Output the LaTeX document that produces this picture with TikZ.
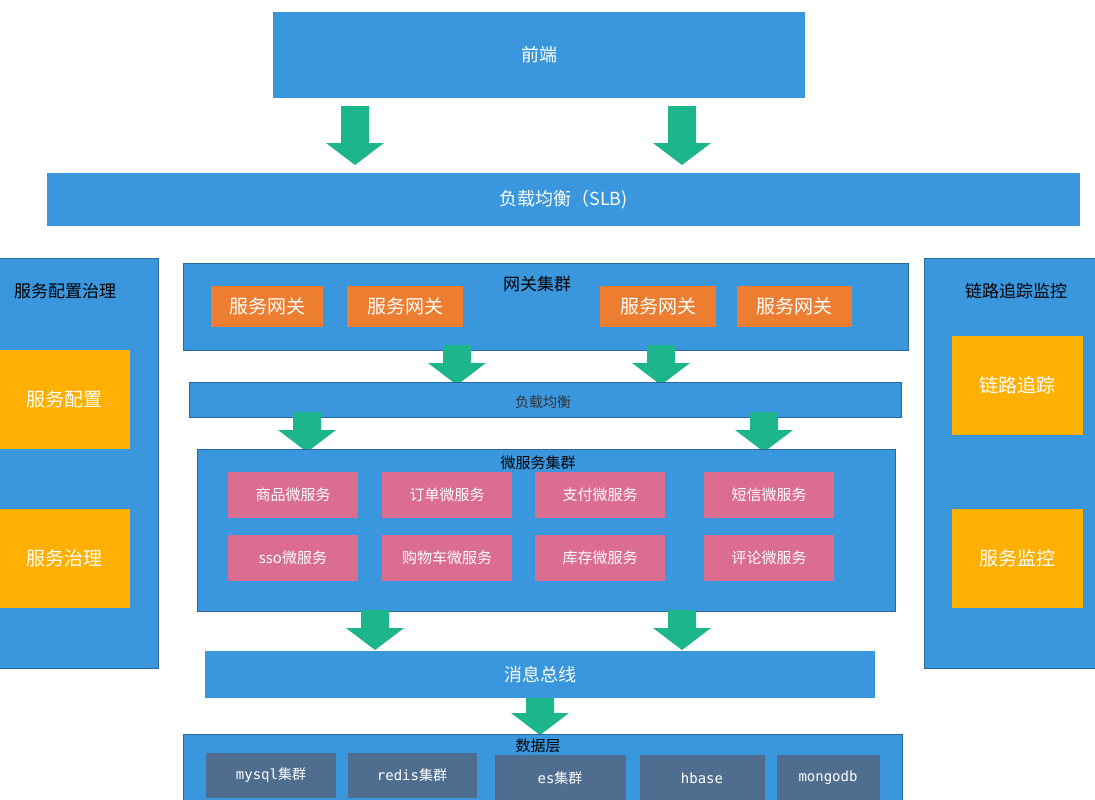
\documentclass[tikz,border=0pt]{standalone}
\usepackage{fontspec}
\setmainfont{Noto Sans CJK SC}
\newfontfamily\monof{DejaVu Sans Mono}
\definecolor{bl}{HTML}{3A96DD}
\definecolor{gr}{HTML}{1DB58C}
\definecolor{orb}{HTML}{ED7D31}
\definecolor{yel}{HTML}{FFB000}
\definecolor{pk}{HTML}{DA6D90}
\definecolor{sl}{HTML}{4F6D8E}
\newcommand\garrow[3]{\fill[gr] (#1-14,#2) -- (#1+14,#2) -- (#1+14,#3-22) -- (#1+29,#3-22) -- (#1,#3) -- (#1-29,#3-22) -- (#1-14,#3-22) -- cycle;}
\tikzset{
 panel/.style={fill=bl,draw=bl!70!black,line width=0.6pt},
 box/.style={draw=none,text=white,inner sep=0},
 ttl/.style={text=black,font=\fontsize{17}{20}\selectfont},
}
\begin{document}
\begin{tikzpicture}[x=1pt,y=-1pt]
\useasboundingbox (0,0) rectangle (1095,800);
\fill[white] (0,0) rectangle (1095,800);
\newcommand\bx[6]{\node[box,fill=#5,minimum width=#3-#1,minimum height=#4-#2,font=#6] at ({(#1+#3)/2},{(#2+#4)/2})}
\bx{273}{12}{805}{98}{bl}{\fontsize{18}{20}\selectfont}(fe){前端};
\garrow{355}{106}{165}\garrow{682}{106}{165}
\bx{47}{173}{1080}{226}{bl}{\fontsize{18}{20}\selectfont}(slb){负载均衡（SLB)};
% left panel
\fill[panel] (-2,258) rectangle (158,668);
\node[ttl] (lt) at (65,291) {服务配置治理};
\bx{0}{350}{130}{449}{yel}{\fontsize{19}{20}\selectfont}(cfg){服务配置};
\bx{0}{509}{130}{608}{yel}{\fontsize{19}{20}\selectfont}(gov){服务治理};
% right panel
\fill[panel] (924,258) rectangle (1097,668);
\node[ttl] (rt) at (1016,291) {链路追踪监控};
\bx{952}{336}{1083}{435}{yel}{\fontsize{19}{20}\selectfont}(tr){链路追踪};
\bx{952}{509}{1083}{608}{yel}{\fontsize{19}{20}\selectfont}(mon){服务监控};
% gateway
\fill[panel] (183,263) rectangle (908,350);
\node[ttl] (gt) at (537,284) {网关集群};
\bx{211}{286}{323}{327}{orb}{\fontsize{19}{20}\selectfont}(g1){服务网关};
\bx{347}{286}{463}{327}{orb}{\fontsize{19}{20}\selectfont}(g2){服务网关};
\bx{600}{286}{716}{327}{orb}{\fontsize{19}{20}\selectfont}(g3){服务网关};
\bx{737}{286}{852}{327}{orb}{\fontsize{19}{20}\selectfont}(g4){服务网关};
\garrow{457}{345}{385}\garrow{661}{345}{385}
\fill[panel] (189,382) rectangle (901,417);
\node[text=black!80,font=\fontsize{14}{16}\selectfont] (lb) at (543,402) {负载均衡};
\garrow{307}{412}{452}\garrow{764}{412}{452}
% microservices
\fill[panel] (197,449) rectangle (895,611);
\node[text=black,font=\fontsize{15}{16}\selectfont] (mt) at (538,463) {微服务集群};
\tikzset{ms/.style={fill=pk,text=white,minimum width=130,minimum height=46,inner sep=0,font=\fontsize{15}{16}\selectfont}}
\node[ms] (m1) at (293,495) {商品微服务};
\node[ms] (m2) at (447,495) {订单微服务};
\node[ms] (m3) at (600,495) {支付微服务};
\node[ms] (m4) at (769,495) {短信微服务};
\node[ms] (m5) at (293,558) {sso微服务};
\node[ms] (m6) at (447,558) {购物车微服务};
\node[ms] (m7) at (600,558) {库存微服务};
\node[ms] (m8) at (769,558) {评论微服务};
\garrow{375}{610}{650}\garrow{682}{610}{650}
\bx{205}{651}{875}{698}{bl}{\fontsize{18}{20}\selectfont}(bus){消息总线};
\garrow{540}{698}{735}
% data
\fill[panel] (183,734) rectangle (902,802);
\node[text=black,font=\fontsize{15}{16}\selectfont] (dt) at (538,746) {数据层};
\tikzset{db/.style={fill=sl,text=white,inner sep=0,font=\fontsize{14}{16}\selectfont}}
\node[db,minimum width=130,minimum height=45] (d1) at (271,775) {{\monof mysql}集群};
\node[db,minimum width=129,minimum height=45] (d2) at (412,775) {{\monof redis}集群};
\node[db,minimum width=131,minimum height=46] (d3) at (560,778) {{\monof es}集群};
\node[db,minimum width=125,minimum height=46] (d4) at (702,778) {\monof hbase};
\node[db,minimum width=103,minimum height=46] (d5) at (828,778) {\monof mongodb};
\end{tikzpicture}
\end{document}
